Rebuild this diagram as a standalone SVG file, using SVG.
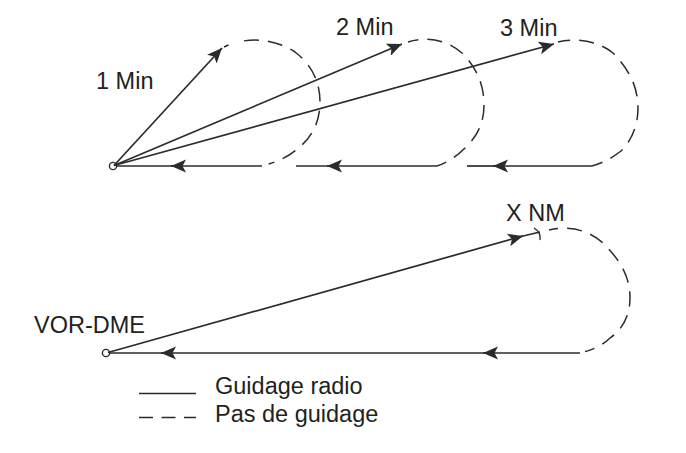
<svg xmlns="http://www.w3.org/2000/svg" width="686" height="453" viewBox="0 0 686 453">
<style>
.l{fill:none;stroke:#2b2b2e;stroke-width:1.7}
.d{fill:none;stroke:#2b2b2e;stroke-width:1.5;stroke-dasharray:15 9}
.b{fill:none;stroke:#2b2b2e;stroke-width:1.4}
.t{font-family:"Liberation Sans",Arial,sans-serif;font-size:23.5px;fill:#231f20}
</style>
<defs>
<marker id="a" markerUnits="userSpaceOnUse" markerWidth="18" markerHeight="16" refX="15" refY="7" orient="auto">
<path d="M0 0.500L15 7L0 13.500L3.500 7Z" fill="#2b2b2e"/>
</marker>
</defs>
<g id="connectors">
<path class="l" d="M114 165.500L222 48" marker-end="url(#a)"/>
<path class="l" d="M114 165.500L402 44" marker-end="url(#a)"/>
<path class="l" d="M114 165.500L554 44" marker-end="url(#a)"/>
<path class="l" d="M262 166H171" marker-end="url(#a)"/>
<path class="l" d="M175 166H116"/>
<path class="l" d="M437 166H327" marker-end="url(#a)"/>
<path class="l" d="M331 166H296"/>
<path class="l" d="M592 166H493" marker-end="url(#a)"/>
<path class="l" d="M497 166H467"/>
<path class="d" style="stroke-dasharray:0 7 6 9 15 9 15 9 15 9 15 9 15 9 15 9 15 9 15 9" d="M262 166C273 163 285 159 296 150C312 138 320 122 320 102C320 82 312 65 295 52C272 37 245 37 224 47"/>
<path class="d" style="stroke-dashoffset:5" d="M437 166C448 162 456 157 465 148C478 136 484 122 484 105C484 85 477 68 462 53C445 38 425 37 408 42"/>
<path class="d" style="stroke-dashoffset:4" d="M592 166C603 163 612 158 621 151C632 140 638 125 638 108C638 88 630 70 613 53C597 40 575 38 558 42"/>
<path class="l" d="M108 352.500L523 236" marker-end="url(#a)"/>
<path class="l" d="M519 237L540 232"/>
<path class="b" d="M534 228C539 231 541 235 540 240"/>
<path class="l" d="M580 353H483" marker-end="url(#a)"/>
<path class="l" d="M487 353H161" marker-end="url(#a)"/>
<path class="l" d="M165 353H110"/>
<path class="d" style="stroke-dasharray:0 5 10 9 15 9 15 9 15 9 15 9 15 9 15 9 15 9 15 9" d="M580 353C592 350 602 346 610 338C623 329 630 315 630 298C630 278 622 262 603 243C586 228 566 226 549 230"/>
</g>
<g id="vor1"><circle class="b" cx="113" cy="166" r="3.600"/><text class="t" x="96" y="89">1 Min</text></g>
<g id="min2"><text class="t" x="336" y="35">2 Min</text></g>
<g id="min3"><text class="t" x="500" y="36">3 Min</text></g>
<g id="xnm"><text class="t" x="506" y="221">X NM</text></g>
<g id="vor2"><circle class="b" cx="106" cy="353" r="3.600"/><text class="t" x="34" y="333">VOR-DME</text></g>
<g id="legend">
<path class="b" d="M139 393.500H196"/>
<path class="b" d="M139 417.500H196" stroke-dasharray="14 8.500"/>
<text class="t" x="215" y="394">Guidage radio</text>
<text class="t" x="215" y="422">Pas de guidage</text>
</g>
</svg>
